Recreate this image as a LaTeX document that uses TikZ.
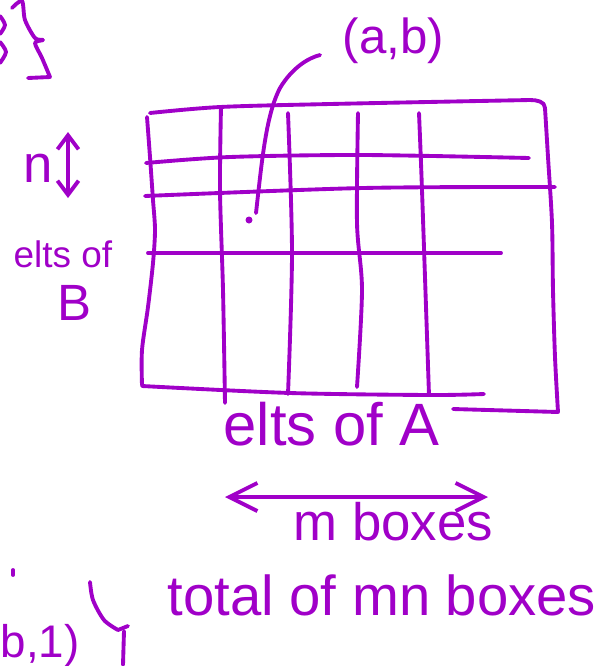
\documentclass[tikz,border=0pt]{standalone}
\usepackage{fontspec}
\setmainfont{Liberation Sans}
\usetikzlibrary{arrows.meta}
\begin{document}
\begin{tikzpicture}[x=0.01cm, y=-0.01cm,
    ink/.style={myInk, line width=1.1pt, line cap=round, line join=round},
    hand/.style={myInk, inner sep=0pt, anchor=base west}]
    \definecolor{myInk}{RGB}{160,0,200}
    \useasboundingbox (0,0) rectangle (600,666);

    \draw[ink] plot[smooth] coordinates {(0,16) (5,25) (0,34)};
    \draw[ink] plot[smooth] coordinates {(0,42) (6,52) (0,63)};
    \draw[ink] plot[smooth] coordinates {(12,8) (22,1) (25,20) (35,38) (43,40) (35,43) (42,58) (50,77)} -- (28,78);

    \draw[ink] plot[smooth] coordinates {(147,117) (150,157) (153,200) (155,230) (153,263) (148,307) (142,350) (142,385)};
    \draw[ink] plot[smooth] coordinates {(150,113) (220,107) (330,104) (530,100)}
        to[out=0, in=90] (545,108)
        plot[smooth] coordinates {(545,108) (548,157) (552,223) (553,290) (555,357) (558,412)} -- (453,409);
    \draw[ink] plot[smooth] coordinates {(142,386) (290,393) (430,395) (484,394)};

    \draw[ink] plot[smooth] coordinates {(221,107) (220,190) (223,290) (225,403)};
    \draw[ink] plot[smooth] coordinates {(288,113) (292,253) (288,394)};
    \draw[ink] plot[smooth] coordinates {(358,113) (357,223) (362,290) (357,387)};
    \draw[ink] plot[smooth] coordinates {(419,113) (422,190) (429,395)};

    \draw[ink] plot[smooth] coordinates {(146,163) (230,157) (363,155) (529,158)};
    \draw[ink] plot[smooth] coordinates {(145,196) (363,188) (555,187)};
    \draw[ink] (148,253) -- (501,253);

    \fill[myInk] (249,220) circle (3.5);
    \coordinate (dot) at (256,213);
    \coordinate (tip) at (320,55);
    \draw[ink] (dot) .. controls (262,160) and (266,115) .. (280,88) .. controls (292,68) and (308,58) .. (tip);
    \node[hand, font=\fontsize{14}{16}\selectfont] (ab) at (342,53) {(a,b)};

    \node[hand, font=\fontsize{15}{18}\selectfont] (nlab) at (23,182) {n};
    \coordinate (ntop) at (68,132);
    \coordinate (nbot) at (68,198);
    \draw[ink, {Straight Barb[length=4pt,width=6pt]}-{Straight Barb[length=4pt,width=6pt]}] (ntop) -- (nbot);
    \node[hand, font=\fontsize{10.5}{13}\selectfont] (eltsB) at (13,267) {elts of};
    \node[hand, font=\fontsize{14.5}{17}\selectfont] (B) at (57,320) {B};

    \node[hand, font=\fontsize{17}{20}\selectfont] (eltsA) at (223,445) {elts of A};
    \coordinate (mleft) at (225,497);
    \coordinate (mright) at (488,497);
    \draw[ink, {Straight Barb[length=8pt,width=8pt]}-{Straight Barb[length=8pt,width=8pt]}] (mleft) -- (mright);
    \node[hand, font=\fontsize{15}{18}\selectfont] (mbox) at (293,540) {m boxes};

    \draw[ink] (13,570) -- (13,575);
    \node[hand, font=\fontsize{13}{16}\selectfont] (b1) at (0,657) {b,1)};
    \draw[ink] plot[smooth] coordinates {(90,582) (93,600) (104,620) (118,630)} -- (128,626);
    \draw[ink] (124,631) -- (123,665);
    \node[hand, font=\fontsize{16}{19}\selectfont] (total) at (167,615) {total of mn boxes};
\end{tikzpicture}
\end{document}
